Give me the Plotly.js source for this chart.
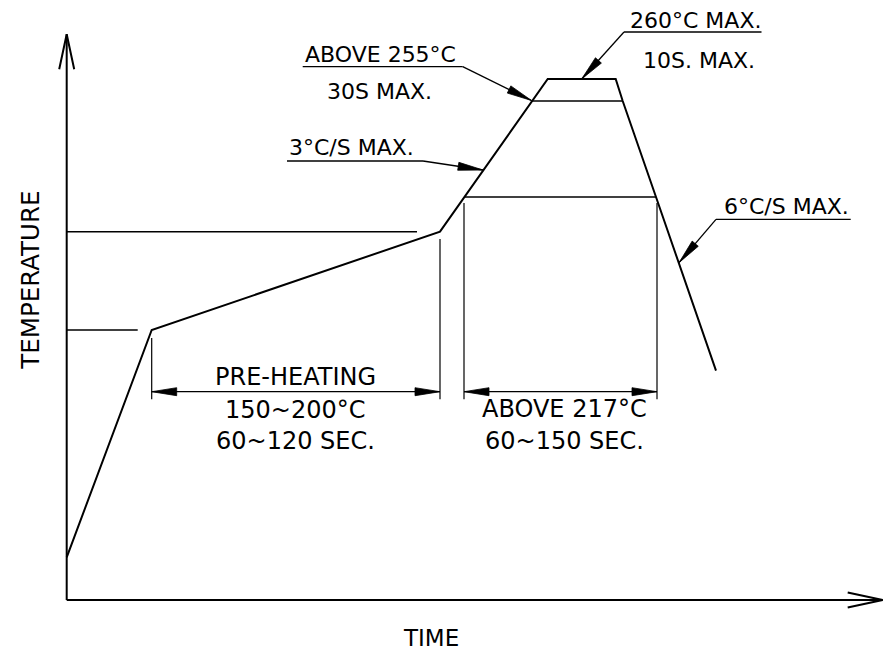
<!DOCTYPE html>
<html><head><meta charset="utf-8">
<script src="https://cdn.plot.ly/plotly-3.0.1.min.js"></script>
<style>html,body{margin:0;padding:0;background:#fff;overflow:hidden}#chart{width:883px;height:666px}</style>
</head><body><div id="chart"></div>
<script>
// Schematic reflow profile (diagram units: time from origin, temperature height above the time axis)
const profileTime = [0, 85, 373.3, 465, 481, 549, 556, 589.3, 649.3];
const profileTemp = [42.7, 270, 368.3, 499, 521, 521, 499, 403, 229.3];

// reference levels: 150°C, 200°C, 217°C, 255°C
const refLevelTemp = [270, 368.3, 403, 499];
const refLevelFrom = [0, 0, 398.3, 465];
const refLevelTo   = [71, 350.3, 589.3, 556];

// dimension spans (pre-heating, above 217°C)
const dimFrom = [85, 397.3];
const dimTo   = [373.3, 590.3];
const dimTopFrom = [262, 397];
const dimTopTo   = [361, 397];
const dimArrowTemp = 208.3;
const dimBottom = 200.7;
const dimLabels = [['PRE-HEATING', '150~200°C', '60~120 SEC.'], ['ABOVE 217°C', '60~150 SEC.']];

// callouts: underline start/end, leader tip, texts
const calloutText = [['260°C MAX.', '10S. MAX.'], ['ABOVE 255°C', '30S MAX.'], ['3°C/S MAX.'], ['6°C/S MAX.']];
const calloutLineX0 = [557.3, 236, 220.3, 649.3];
const calloutLineX1 = [694.8, 396, 356.3, 784];
const calloutLineY  = [568, 533.3, 439, 380.7];
const calloutTipX = [515, 464.8, 416.3, 612.3];
const calloutTipY = [521, 499.5, 430, 337.3];

const axisTimeMax = 816;
const axisTempMax = 565.7;
const axisLabels = ['TIME', 'TEMPERATURE'];

const black = '#000';
const FONT = 'DejaVu Sans, Liberation Sans, sans-serif';

function joinSegs(segs) {
  const x = [], y = [];
  segs.forEach((s, i) => { if (i) { x.push(null); y.push(null); } s.forEach(p => { x.push(p[0]); y.push(p[1]); }); });
  return {x, y};
}
function head(tip, from, L, W) {
  const dx = tip[0] - from[0], dy = tip[1] - from[1];
  const d = Math.hypot(dx, dy), ux = dx / d, uy = dy / d;
  const bx = tip[0] - ux * L, by = tip[1] - uy * L;
  return [tip, [bx - uy * W, by + ux * W], [bx + uy * W, by - ux * W], tip];
}
function openHead(tip, from, L, W) {
  const h = head(tip, from, L, W);
  return [h[1], tip, h[2]];
}

// axes
const axesSegs = [
  [[0, 0], [0, axisTempMax]],
  [[0, 0], [axisTimeMax, 0]],
  openHead([0, axisTempMax], [0, 0], 35, 7.5),
  openHead([axisTimeMax, 0], [0, 0], 35, 7.5)
];
// reference level lines
const refSegs = refLevelTemp.map((t, i) => [[refLevelFrom[i], t], [refLevelTo[i], t]]);
// dimension lines
const dimSegs = [];
const heads = [];
dimFrom.forEach((a, i) => {
  const b = dimTo[i];
  dimSegs.push([[a, dimTopFrom[i]], [a, dimBottom]]);
  dimSegs.push([[b, dimTopTo[i]], [b, dimBottom]]);
  dimSegs.push([[a, dimArrowTemp], [b, dimArrowTemp]]);
  heads.push(head([a, dimArrowTemp], [b, dimArrowTemp], 25, 4));
  heads.push(head([b, dimArrowTemp], [a, dimArrowTemp], 25, 4));
});
// callout leaders
const leaderSegs = [];
calloutLineX0.forEach((x0, i) => {
  const y = calloutLineY[i];
  const start = (i === 1 || i === 2) ? [calloutLineX1[i], y] : [x0, y];
  leaderSegs.push([[x0, y], [calloutLineX1[i], y]]);
  leaderSegs.push([start, [calloutTipX[i], calloutTipY[i]]]);
  heads.push(head([calloutTipX[i], calloutTipY[i]], start, 25, 4));
});

const A = joinSegs(axesSegs), R = joinSegs(refSegs), D = joinSegs(dimSegs), Ld = joinSegs(leaderSegs), H = joinSegs(heads);

const traces = [
  {x: A.x, y: A.y, mode: 'lines', line: {color: black, width: 2}, hoverinfo: 'skip'},
  {x: profileTime, y: profileTemp, mode: 'lines', line: {color: black, width: 2}, hoverinfo: 'skip'},
  {x: R.x, y: R.y, mode: 'lines', line: {color: black, width: 1.6}, hoverinfo: 'skip'},
  {x: D.x, y: D.y, mode: 'lines', line: {color: black, width: 1.2}, hoverinfo: 'skip'},
  {x: Ld.x, y: Ld.y, mode: 'lines', line: {color: black, width: 1.3}, hoverinfo: 'skip'},
  {x: H.x, y: H.y, mode: 'lines', fill: 'toself', fillcolor: black, line: {color: black, width: 0.8}, hoverinfo: 'skip'}
];

const up = {family: FONT, size: 22, color: black};
const lo = {family: FONT, size: 24, color: black};
function ann(text, x, y, font, extra) {
  return Object.assign({text, x, y, xref: 'x', yref: 'y', showarrow: false, xanchor: 'center', yanchor: 'middle', font, borderpad: 0}, extra || {});
}
const annotations = [
  ann(calloutText[0][0], 628.8, 579.7, up),
  ann(calloutText[0][1], 632.3, 539.7, up),
  ann(calloutText[1][0], 313.3, 545.7, up),
  ann(calloutText[1][1], 313, 509, up),
  ann(calloutText[2][0], 284.3, 452.3, up),
  ann(calloutText[3][0], 719.3, 393.7, up),
  ann(dimLabels[0][0], 228.8, 223, lo),
  ann(dimLabels[0][1], 228.3, 190.5, lo),
  ann(dimLabels[0][2], 228.3, 158.7, lo),
  ann(dimLabels[1][0], 497.3, 190.7, lo),
  ann(dimLabels[1][1], 497.3, 158.7, lo),
  ann(axisLabels[0], 364.3, -38, {family: FONT, size: 23, color: black}),
  ann(axisLabels[1], -37, 320, {family: FONT, size: 24.5, color: black}, {textangle: -90})
];

const layout = {
  width: 883, height: 666,
  margin: {l: 0, r: 0, t: 0, b: 0, pad: 0},
  paper_bgcolor: '#fff', plot_bgcolor: '#fff',
  showlegend: false,
  xaxis: {range: [-66.7, 816.3], visible: false, fixedrange: true},
  yaxis: {range: [-66, 600], visible: false, fixedrange: true},
  annotations
};
Plotly.newPlot('chart', traces, layout, {staticPlot: true, displayModeBar: false});
</script></body></html>
